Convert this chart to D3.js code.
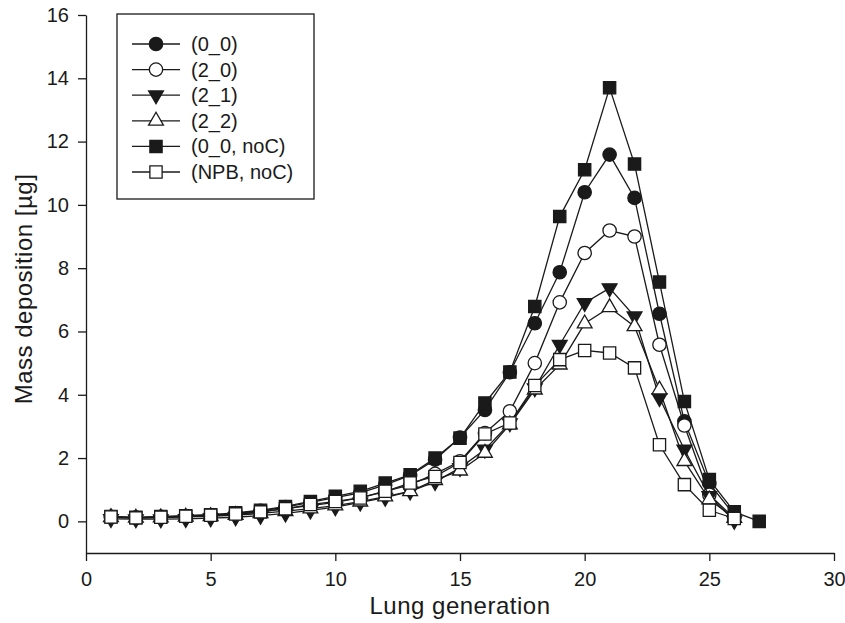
<!DOCTYPE html>
<html lang="en">
<head>
    <meta charset="UTF-8">
    <script src="https://cdn.jsdelivr.net/npm/d3@7"></script>
    <style>
        body {margin: 0; background-color: #ffffff}
        svg {display: block; font-family: "Liberation Sans", Arial, sans-serif}
    </style>
</head>
<body>
<svg class="chart"></svg>
<script type="text/javascript">
    // lung generations 1..27
    let generations = [1, 2, 3, 4, 5, 6, 7, 8, 9, 10, 11, 12, 13, 14, 15, 16, 17, 18, 19, 20, 21, 22, 23, 24, 25, 26, 27];

    let series_names = ['(0_0)', '(2_0)', '(2_1)', '(2_2)', '(0_0, noC)', '(NPB, noC)'];

    // mass deposition [µg] per generation
    let dep_0_0 = [0.14, 0.12, 0.14, 0.17, 0.20, 0.25, 0.33, 0.45, 0.60, 0.75, 0.90, 1.15, 1.45, 1.95, 2.65, 3.52, 4.71, 6.26, 7.87, 10.40, 11.59, 10.22, 6.56, 3.16, 1.20, 0.20];
    let dep_2_0 = [0.13, 0.11, 0.13, 0.15, 0.18, 0.22, 0.30, 0.40, 0.50, 0.60, 0.75, 0.95, 1.15, 1.50, 1.90, 2.79, 3.48, 5.00, 6.92, 8.48, 9.19, 9.00, 5.58, 3.03, 0.84, 0.10];
    let dep_2_1 = [0.08, 0.07, 0.07, 0.08, 0.10, 0.13, 0.18, 0.25, 0.35, 0.45, 0.60, 0.75, 0.95, 1.25, 1.69, 2.27, 3.10, 4.21, 5.58, 6.90, 7.37, 6.48, 3.90, 2.27, 0.80, 0.02];
    let dep_2_2 = [0.13, 0.11, 0.12, 0.14, 0.16, 0.20, 0.25, 0.32, 0.40, 0.50, 0.62, 0.78, 0.95, 1.30, 1.60, 2.16, 3.06, 4.16, 4.95, 6.25, 6.76, 6.16, 4.16, 1.90, 0.69, 0.10];
    let dep_0_0_noC = [0.15, 0.13, 0.15, 0.18, 0.21, 0.27, 0.35, 0.47, 0.63, 0.79, 0.95, 1.21, 1.47, 2.00, 2.63, 3.74, 4.72, 6.79, 9.63, 11.11, 13.70, 11.29, 7.56, 3.79, 1.32, 0.30, 0.00];
    let dep_NPB_noC = [0.14, 0.11, 0.13, 0.16, 0.19, 0.23, 0.30, 0.40, 0.53, 0.63, 0.74, 0.95, 1.21, 1.42, 1.86, 2.76, 3.11, 4.29, 5.11, 5.40, 5.32, 4.85, 2.42, 1.16, 0.35, 0.09];

    let x_ticks = [0, 5, 10, 15, 20, 25, 30];
    let y_ticks = [0, 2, 4, 6, 8, 10, 12, 14, 16];

    let width = 845;
    let height = 623;
    let margin = {top: 15, right: 11, bottom: 70, left: 86};
    let ink = '#1a1a1a';

    let svg = d3.select('.chart')
        .attr('width', width)
        .attr('height', height);

    let x_range = d3.scaleLinear()
        .domain([0, 30])
        .range([margin.left, width - margin.right]);

    let y_range = d3.scaleLinear()
        .domain([-1, 16])
        .range([height - margin.bottom, margin.top]);

    // symbols: shape, filled?, rotation
    let styles = [
        {shape: d3.symbolCircle, size: 140, fill: ink, rot: 0},
        {shape: d3.symbolCircle, size: 140, fill: '#fff', rot: 0},
        {shape: d3.symbolTriangle, size: 95, fill: ink, rot: 180},
        {shape: d3.symbolTriangle, size: 95, fill: '#fff', rot: 0},
        {shape: d3.symbolSquare, size: 150, fill: ink, rot: 0},
        {shape: d3.symbolSquare, size: 150, fill: '#fff', rot: 0}
    ];

    let all_series = [dep_0_0, dep_2_0, dep_2_1, dep_2_2, dep_0_0_noC, dep_NPB_noC];

    // axes
    let x_axis = d3.axisBottom(x_range).tickValues(x_ticks).tickSize(8).tickSizeOuter(0).tickPadding(11);
    let y_axis = d3.axisLeft(y_range).tickValues(y_ticks).tickSize(8).tickSizeOuter(0).tickPadding(9);

    let gx = svg.append('g')
        .attr('transform', 'translate(0,' + (height - margin.bottom) + ')')
        .call(x_axis);
    let gy = svg.append('g')
        .attr('transform', 'translate(' + margin.left + ',0)')
        .call(y_axis);

    [gx, gy].forEach(g => {
        g.selectAll('path, line').attr('stroke', ink).attr('stroke-width', 1.3);
        g.selectAll('text').attr('fill', ink).style('font-size', '20px').style('font-family', '"Liberation Sans", Arial, sans-serif');
    });

    // series: line then markers
    let line = d3.line()
        .x(function (d, i) { return x_range(generations[i]); })
        .y(function (d) { return y_range(d); });

    all_series.forEach((data, s) => {
        let st = styles[s];
        let g = svg.append('g');
        g.append('path')
            .attr('d', line(data))
            .attr('fill', 'none')
            .attr('stroke', ink)
            .attr('stroke-width', 1.3);
        g.selectAll('path.mark')
            .data(data)
            .enter()
            .append('path')
            .attr('class', 'mark')
            .attr('d', d3.symbol().type(st.shape).size(st.size))
            .attr('transform', function (d, i) {
                return 'translate(' + x_range(generations[i]) + ',' + y_range(d) + ') rotate(' + st.rot + ')';
            })
            .attr('fill', st.fill)
            .attr('stroke', ink)
            .attr('stroke-width', 1.3);
    });

    // legend
    let legend = svg.append('g');
    legend.append('rect')
        .attr('x', 117).attr('y', 14)
        .attr('width', 197).attr('height', 185)
        .attr('fill', '#fff')
        .attr('stroke', ink)
        .attr('stroke-width', 1.3);

    series_names.forEach((name, s) => {
        let st = styles[s];
        let y = 44 + s * 25.6;
        legend.append('line')
            .attr('x1', 132).attr('x2', 180)
            .attr('y1', y).attr('y2', y)
            .attr('stroke', ink).attr('stroke-width', 1.3);
        legend.append('path')
            .attr('d', d3.symbol().type(st.shape).size(st.size))
            .attr('transform', 'translate(156,' + y + ') rotate(' + st.rot + ')')
            .attr('fill', st.fill)
            .attr('stroke', ink)
            .attr('stroke-width', 1.3);
        legend.append('text')
            .attr('x', 191).attr('y', y + 7)
            .attr('fill', ink)
            .style('font-size', '20px')
            .text(name);
    });

    // axis titles
    svg.append('text')
        .attr('x', (margin.left + width - margin.right) / 2)
        .attr('y', 614)
        .attr('text-anchor', 'middle')
        .attr('fill', ink)
        .style('font-size', '24px')
        .style('letter-spacing', '0.5px')
        .text('Lung generation');

    svg.append('text')
        .attr('transform', 'translate(32,289) rotate(-90)')
        .attr('text-anchor', 'middle')
        .attr('fill', ink)
        .style('font-size', '24px')
        .style('letter-spacing', '0.5px')
        .text('Mass deposition [µg]');
</script>
</body>
</html>
